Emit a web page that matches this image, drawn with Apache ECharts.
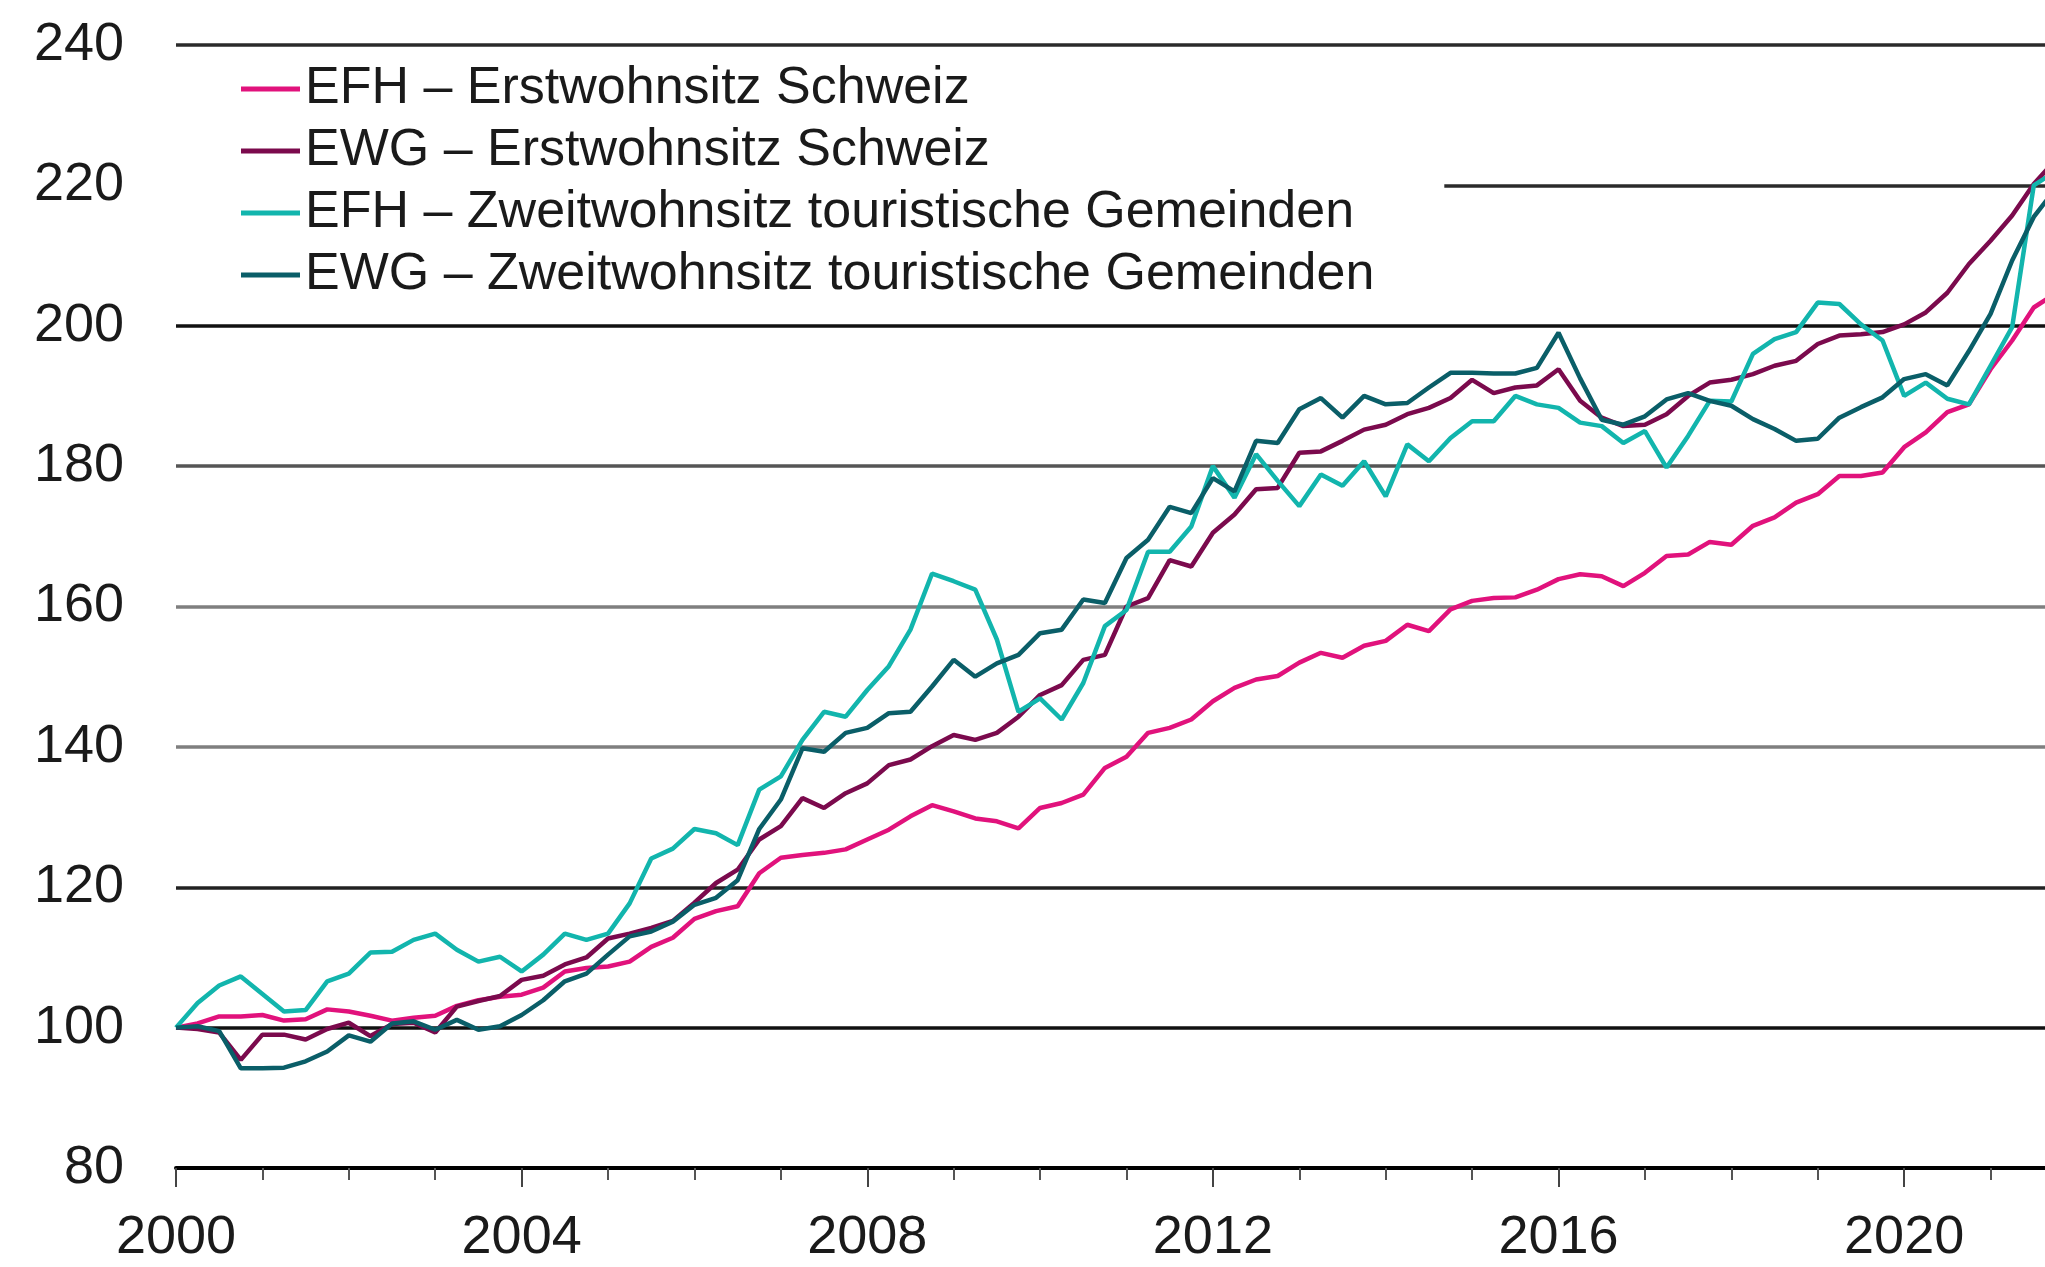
<!DOCTYPE html>
<html>
<head>
<meta charset="utf-8">
<title>Preisindizes Wohneigentum</title>
<script src="https://cdn.jsdelivr.net/npm/echarts@6/dist/echarts.min.js"></script>
<style>
  html, body { margin: 0; padding: 0; background: #fff; }
  #chart { width: 2045px; height: 1267px; }
</style>
</head>
<body>
<div id="chart"></div>
<script>
// Quartalswerte ab 2000 Q1 (Index 2000 = 100)
var startYear = 2000;

// EFH – Erstwohnsitz Schweiz
var efhErst = [
  100, 100.6, 101.6, 101.6, 101.8, 101.0, 101.2, 102.6, 102.3, 101.7, 101.0, 101.4,
  101.7, 103.1, 103.9, 104.4, 104.7, 105.7, 108.0, 108.5, 108.7, 109.4, 111.5, 112.8,
  115.5, 116.6, 117.3, 122.0, 124.2, 124.6, 124.9, 125.4, 126.8, 128.2, 130.1, 131.7,
  130.8, 129.8, 129.4, 128.4, 131.3, 132.0, 133.2, 137.0, 138.6, 142.0, 142.7, 143.9,
  146.5, 148.4, 149.6, 150.1, 152.0, 153.4, 152.7, 154.4, 155.1, 157.4, 156.5, 159.6,
  160.8, 161.2, 161.3, 162.4, 163.9, 164.6, 164.3, 162.9, 164.8, 167.2, 167.4, 169.2,
  168.8, 171.5, 172.7, 174.8, 176.0, 178.6, 178.6, 179.1, 182.7, 184.8, 187.7, 188.8,
  193.8, 197.9, 202.6, 204.6
];

// EWG – Erstwohnsitz Schweiz
var ewgErst = [
  100, 99.8, 99.3, 95.4, 99.0, 99.0, 98.3, 99.8, 100.7, 98.8, 100.5, 100.7,
  99.3, 103.0, 103.8, 104.5, 106.8, 107.4, 109.0, 110.0, 112.7, 113.4, 114.2, 115.2,
  117.8, 120.6, 122.5, 126.8, 128.7, 132.7, 131.3, 133.4, 134.8, 137.4, 138.2, 140.1,
  141.7, 141.0, 142.0, 144.3, 147.4, 148.8, 152.4, 153.1, 160.0, 161.2, 166.6, 165.7,
  170.5, 173.1, 176.7, 176.9, 181.9, 182.1, 183.6, 185.2, 185.9, 187.4, 188.3, 189.7,
  192.3, 190.4, 191.2, 191.5, 193.8, 189.3, 186.9, 185.7, 185.9, 187.4, 190.0, 191.9,
  192.3, 193.1, 194.3, 195.0, 197.4, 198.6, 198.8, 199.1, 200.2, 201.9, 204.7, 208.8,
  212.1, 215.7, 220.2, 223.6
];

// EFH – Zweitwohnsitz touristische Gemeinden
var efhZweit = [
  100, 103.5, 106.0, 107.3, 104.8, 102.3, 102.5, 106.6, 107.7, 110.7, 110.8, 112.5,
  113.4, 111.1, 109.4, 110.1, 108.0, 110.4, 113.4, 112.5, 113.4, 117.7, 124.1, 125.5,
  128.3, 127.7, 126.0, 133.9, 135.8, 141.0, 145.0, 144.3, 148.1, 151.5, 156.7, 164.7,
  163.6, 162.4, 155.3, 145.0, 146.9, 143.9, 149.1, 157.2, 159.5, 167.8, 167.8, 171.4,
  180.0, 175.5, 181.7, 177.9, 174.3, 178.8, 177.2, 180.7, 175.7, 183.1, 180.7, 184.0,
  186.4, 186.4, 190.0, 188.8, 188.3, 186.2, 185.7, 183.3, 185.0, 179.8, 184.3, 189.3,
  189.2, 196.0, 198.1, 199.1, 203.3, 203.1, 200.2, 197.9, 190.0, 191.9, 189.6, 188.8,
  194.3, 199.8, 220.0, 222.0
];

// EWG – Zweitwohnsitz touristische Gemeinden
var ewgZweit = [
  100, 100.2, 99.5, 94.2, 94.2, 94.3, 95.2, 96.6, 98.9, 98.0, 100.6, 100.9,
  99.7, 101.1, 99.7, 100.2, 101.8, 103.9, 106.6, 107.7, 110.4, 113.0, 113.7, 115.1,
  117.5, 118.5, 121.0, 128.3, 132.5, 139.8, 139.3, 142.0, 142.7, 144.8, 145.0, 148.6,
  152.4, 150.0, 151.9, 153.1, 156.2, 156.7, 161.0, 160.5, 166.9, 169.5, 174.2, 173.3,
  178.3, 176.4, 183.6, 183.3, 188.1, 189.7, 186.9, 190.0, 188.8, 189.0, 191.2, 193.3,
  193.3, 193.2, 193.2, 194.0, 199.0, 192.5, 186.6, 185.9, 187.1, 189.5, 190.4, 189.3,
  188.6, 186.7, 185.3, 183.6, 183.9, 186.9, 188.4, 189.8, 192.4, 193.1, 191.5, 196.4,
  201.7, 209.3, 215.5, 219.5
];

var seriesNames = [
  'EFH – Erstwohnsitz Schweiz',
  'EWG – Erstwohnsitz Schweiz',
  'EFH – Zweitwohnsitz touristische Gemeinden',
  'EWG – Zweitwohnsitz touristische Gemeinden'
];
var seriesColors = ['#e1127c', '#7b0a4d', '#12b5ad', '#0a5e68'];

// Achsen
var yearTicks = [2000, 2001, 2002, 2003, 2004, 2005, 2006, 2007, 2008, 2009, 2010,
  2011, 2012, 2013, 2014, 2015, 2016, 2017, 2018, 2019, 2020, 2021];
var yearLabels = [2000, 2004, 2008, 2012, 2016, 2020];
var yMin = 80, yMax = 240, yStep = 20;
var xMax = 2021.63;

var fontName = 'Liberation Sans, Arial, sans-serif';
var textColor = '#1a1a1a';

// Quartal -> [Jahr, Wert]
function toPoints(values) {
  return values.map(function (v, i) {
    return [startYear + i / 4, v];
  });
}

var allValues = [efhErst, ewgErst, efhZweit, ewgZweit];

var chart = echarts.init(document.getElementById('chart'));

var option = {
  animation: false,
  backgroundColor: '#ffffff',
  grid: {
    left: 176,
    right: 0,
    top: 45,
    bottom: 99,
    containLabel: false
  },
  legend: {
    data: seriesNames,
    orient: 'vertical',
    left: 176,
    top: 56,
    padding: [5, 70, 5, 65],
    backgroundColor: '#ffffff',
    icon: 'rect',
    itemWidth: 59,
    itemHeight: 5,
    itemGap: 6,
    textStyle: {
      fontFamily: fontName,
      fontSize: 52,
      lineHeight: 56,
      color: textColor
    }
  },
  xAxis: [
    {
      type: 'value',
      min: startYear,
      max: xMax,
      position: 'bottom',
      splitLine: { show: false },
      axisLine: { show: true, lineStyle: { color: '#000', width: 4 } },
      axisTick: {
        show: true,
        customValues: yearTicks,
        length: 12,
        lineStyle: { color: '#555', width: 2 }
      },
      axisLabel: {
        customValues: yearLabels,
        margin: 43,
        fontFamily: fontName,
        fontSize: 54,
        color: textColor,
        formatter: function (v) { return String(v); }
      }
    },
    {
      // laengere Striche alle 4 Jahre
      type: 'value',
      min: startYear,
      max: xMax,
      position: 'bottom',
      splitLine: { show: false },
      axisLine: { show: false },
      axisLabel: { show: false },
      axisTick: {
        show: true,
        customValues: yearLabels,
        length: 19,
        lineStyle: { color: '#444', width: 2 }
      }
    }
  ],
  yAxis: {
    type: 'value',
    min: yMin,
    max: yMax,
    interval: yStep,
    axisLine: { show: false },
    axisTick: { show: false },
    axisLabel: {
      margin: 52,
      fontFamily: fontName,
      fontSize: 54,
      color: textColor
    },
    splitLine: {
      show: true,
      lineStyle: {
        width: 3.5,
        color: ['#000', '#111', '#222', '#7f7f7f', '#7f7f7f', '#555', '#111', '#2b2b2b', '#2b2b2b']
      }
    }
  },
  series: allValues.map(function (vals, k) {
    return {
      name: seriesNames[k],
      type: 'line',
      xAxisIndex: 0,
      data: toPoints(vals),
      symbol: 'none',
      smooth: false,
      clip: true,
      lineStyle: { color: seriesColors[k], width: 4.5 },
      itemStyle: { color: seriesColors[k] }
    };
  })
};

chart.setOption(option);
</script>
</body>
</html>
